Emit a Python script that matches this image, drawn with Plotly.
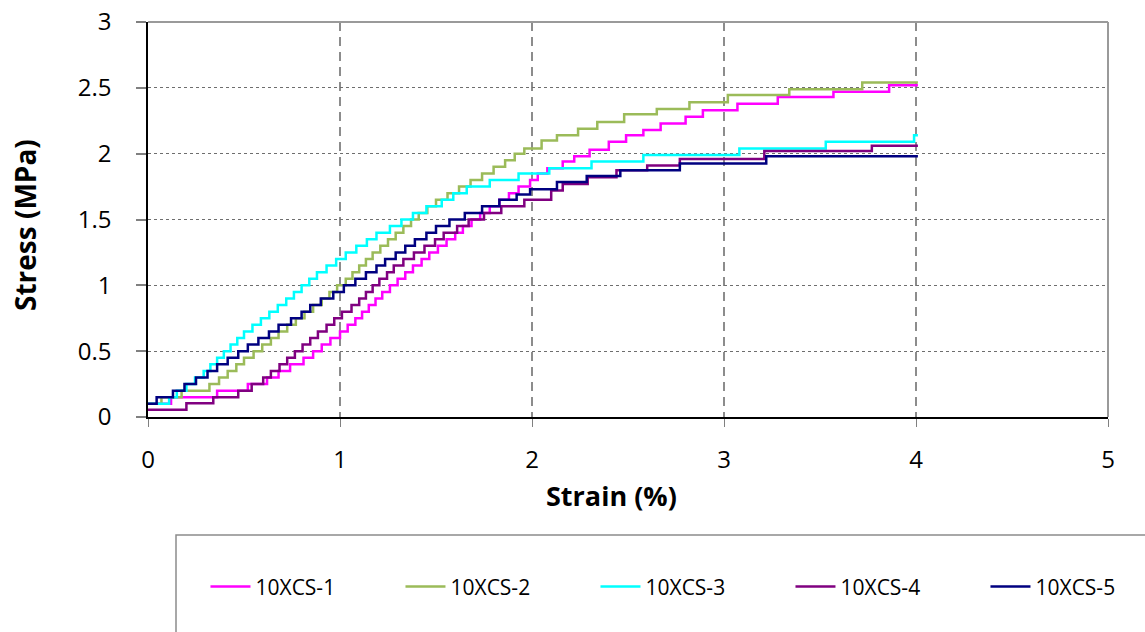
import plotly.graph_objects as go

# ---------------- data ----------------
series_names = ["10XCS-1", "10XCS-2", "10XCS-3", "10XCS-4", "10XCS-5"]
series_colors = ["#FF00FF", "#9BBB59", "#00FFFF", "#800080", "#000080"]

strain_1 = [0, 0.12, 0.36, 0.52, 0.62, 0.68, 0.74, 0.81, 0.86, 0.905, 0.95, 1.0, 1.04, 1.08,
            1.115, 1.15, 1.185, 1.22, 1.26, 1.30, 1.34, 1.38, 1.425, 1.465, 1.51, 1.555, 1.60,
            1.64, 1.685, 1.73, 1.78, 1.83, 1.88, 1.93, 1.99, 2.03, 2.08, 2.16, 2.22, 2.30, 2.40,
            2.49, 2.58, 2.67, 2.80, 2.89, 3.07, 3.28, 3.57, 3.86, 4.01]
stress_1 = [0.10, 0.15, 0.20, 0.25, 0.30, 0.35, 0.40, 0.45, 0.50, 0.55, 0.60, 0.65, 0.70, 0.75,
            0.80, 0.85, 0.90, 0.95, 1.00, 1.05, 1.10, 1.15, 1.20, 1.25, 1.30, 1.35, 1.40, 1.45,
            1.50, 1.55, 1.60, 1.65, 1.70, 1.75, 1.80, 1.85, 1.89, 1.94, 1.98, 2.03, 2.09, 2.14,
            2.18, 2.23, 2.28, 2.33, 2.38, 2.43, 2.47, 2.52, 2.52]

strain_2 = [0, 0.07, 0.175, 0.32, 0.37, 0.415, 0.46, 0.50, 0.55, 0.595, 0.64, 0.68, 0.725, 0.77,
            0.815, 0.86, 0.905, 0.945, 0.985, 1.03, 1.065, 1.10, 1.135, 1.17, 1.21, 1.25, 1.29,
            1.33, 1.37, 1.41, 1.455, 1.50, 1.56, 1.62, 1.68, 1.74, 1.80, 1.86, 1.91, 1.96, 2.05,
            2.13, 2.24, 2.34, 2.48, 2.65, 2.82, 3.02, 3.34, 3.72, 4.01]
stress_2 = [0.10, 0.15, 0.20, 0.25, 0.30, 0.35, 0.40, 0.45, 0.50, 0.55, 0.60, 0.65, 0.70, 0.75,
            0.80, 0.85, 0.90, 0.95, 1.00, 1.05, 1.10, 1.15, 1.20, 1.25, 1.30, 1.35, 1.40, 1.45,
            1.50, 1.55, 1.60, 1.65, 1.70, 1.75, 1.80, 1.85, 1.90, 1.95, 2.00, 2.04, 2.10, 2.14,
            2.19, 2.24, 2.30, 2.34, 2.39, 2.445, 2.49, 2.54, 2.54]

strain_3 = [0, 0.11, 0.15, 0.20, 0.245, 0.29, 0.325, 0.36, 0.395, 0.43, 0.465, 0.50, 0.544, 0.588,
            0.632, 0.676, 0.72, 0.76, 0.80, 0.84, 0.88, 0.93, 0.98, 1.03, 1.085, 1.14, 1.19, 1.26,
            1.32, 1.38, 1.45, 1.53, 1.59, 1.66, 1.78, 1.93, 2.09, 2.31, 2.58, 3.08, 3.53, 3.99, 4.01]
stress_3 = [0.10, 0.15, 0.20, 0.25, 0.30, 0.35, 0.40, 0.45, 0.50, 0.55, 0.60, 0.65, 0.70, 0.75,
            0.80, 0.85, 0.90, 0.95, 1.00, 1.05, 1.10, 1.15, 1.20, 1.25, 1.30, 1.35, 1.40, 1.45,
            1.50, 1.55, 1.60, 1.65, 1.70, 1.75, 1.80, 1.85, 1.89, 1.94, 1.99, 2.04, 2.09, 2.14, 2.14]

strain_4 = [0, 0.2, 0.34, 0.47, 0.54, 0.60, 0.64, 0.685, 0.725, 0.765, 0.805, 0.845, 0.885, 0.93,
            0.97, 1.01, 1.06, 1.10, 1.135, 1.17, 1.205, 1.245, 1.28, 1.33, 1.385, 1.44, 1.495,
            1.54, 1.61, 1.67, 1.75, 1.84, 1.96, 2.10, 2.16, 2.29, 2.44, 2.60, 2.77, 3.21, 3.77, 4.01]
stress_4 = [0.055, 0.105, 0.15, 0.20, 0.25, 0.30, 0.35, 0.40, 0.45, 0.50, 0.55, 0.60, 0.65, 0.70,
            0.75, 0.80, 0.85, 0.90, 0.95, 1.00, 1.05, 1.10, 1.15, 1.20, 1.25, 1.30, 1.35, 1.40,
            1.45, 1.50, 1.55, 1.60, 1.65, 1.72, 1.77, 1.82, 1.875, 1.91, 1.96, 2.02, 2.06, 2.06]

strain_5 = [0, 0.045, 0.13, 0.19, 0.25, 0.31, 0.36, 0.415, 0.47, 0.52, 0.575, 0.63, 0.68, 0.745,
            0.80, 0.845, 0.90, 0.965, 1.02, 1.08, 1.135, 1.19, 1.235, 1.29, 1.34, 1.39, 1.45,
            1.50, 1.57, 1.65, 1.74, 1.83, 1.92, 1.99, 2.13, 2.285, 2.46, 2.77, 3.22, 4.01]
stress_5 = [0.10, 0.15, 0.20, 0.25, 0.30, 0.35, 0.40, 0.45, 0.50, 0.55, 0.60, 0.65, 0.70, 0.75,
            0.80, 0.85, 0.90, 0.95, 1.00, 1.05, 1.10, 1.15, 1.20, 1.25, 1.30, 1.35, 1.40, 1.45,
            1.50, 1.55, 1.60, 1.65, 1.69, 1.73, 1.785, 1.83, 1.875, 1.925, 1.98, 1.98]

x_ticks = [0, 1, 2, 3, 4, 5]
x_tick_labels = ["0", "1", "2", "3", "4", "5"]
y_ticks = [0, 0.5, 1, 1.5, 2, 2.5, 3]
y_tick_labels = ["0", "0.5", "1", "1.5", "2", "2.5", "3"]
x_title = "Strain (%)"
y_title = "Stress (MPa)"

strains = [strain_1, strain_2, strain_3, strain_4, strain_5]
stresses = [stress_1, stress_2, stress_3, stress_4, stress_5]

FONT = "Open Sans"

fig = go.Figure()
for name, color, xs, ys in zip(series_names, series_colors, strains, stresses):
    fig.add_trace(go.Scatter(
        x=xs, y=ys, name=name, mode="lines",
        line=dict(color=color, width=2.5, shape="hv"),
    ))

fig.update_layout(
    width=1145, height=632,
    margin=dict(l=148, r=37, t=22, b=215, autoexpand=False),
    paper_bgcolor="white", plot_bgcolor="white",
    font=dict(family=FONT, color="black"),
    showlegend=True,
    legend=dict(
        orientation="h",
        x=1.0755, xanchor="right",
        y=-0.43, yanchor="middle",
        font=dict(family=FONT, size=21, color="black"),
        bgcolor="rgba(0,0,0,0)",
        borderwidth=0,
        entrywidth=140, entrywidthmode="pixels",
        itemwidth=40,
        traceorder="normal",
    ),
    xaxis=dict(
        range=[0, 5], tickvals=x_ticks, ticktext=x_tick_labels,
        automargin=False,
        showgrid=True, gridcolor="#8C8C8C", gridwidth=2, griddash="9px,6px",
        zeroline=False,
        showline=True, linecolor="black", linewidth=1.5,
        ticks="outside", ticklen=8, tickcolor="#808080", tickwidth=1,
        tickfont=dict(family=FONT, size=24, color="black"),
        ticklabelstandoff=12,
    ),
    yaxis=dict(
        range=[0, 3], tickvals=y_ticks, ticktext=y_tick_labels,
        automargin=False,
        showgrid=True, gridcolor="#6E6E6E", gridwidth=1, griddash="dot",
        zeroline=False,
        showline=True, linecolor="black", linewidth=1.5,
        ticks="outside", ticklen=10, tickcolor="#808080", tickwidth=1.5,
        tickfont=dict(family=FONT, size=24, color="black"),
        ticklabelstandoff=20,
    ),
    annotations=[
        dict(text="<b>" + x_title + "</b>", xref="paper", yref="paper",
             x=(611 - 148) / 960, y=(417 - 495) / 395, xanchor="center", yanchor="middle",
             showarrow=False, font=dict(family=FONT, size=27, color="black")),
        dict(text="<b>" + y_title + "</b>", xref="paper", yref="paper", textangle=-90,
             x=(25 - 148) / 960, y=(417 - 225) / 395, xanchor="center", yanchor="middle",
             showarrow=False, font=dict(family=FONT, size=28, color="black")),
    ],
    shapes=[
        # gray frame on top and right of the plot area
        dict(type="line", xref="paper", yref="paper", x0=0, x1=1, y0=1, y1=1,
             line=dict(color="#9A9A9A", width=2), layer="above"),
        dict(type="line", xref="paper", yref="paper", x0=1, x1=1, y0=0, y1=1,
             line=dict(color="#9A9A9A", width=2), layer="above"),
        # legend box
        dict(type="rect", xref="paper", yref="paper",
             x0=(176 - 148) / 960, x1=(1150 - 148) / 960,
             y0=(417 - 535) / 395, y1=(417 - 640) / 395,
             line=dict(color="#8C8C8C", width=1.5), fillcolor="rgba(0,0,0,0)", layer="above"),
    ],
)

fig.write_html("out.html", config={"displayModeBar": False},
               post_script="document.body.style.margin='0';")
